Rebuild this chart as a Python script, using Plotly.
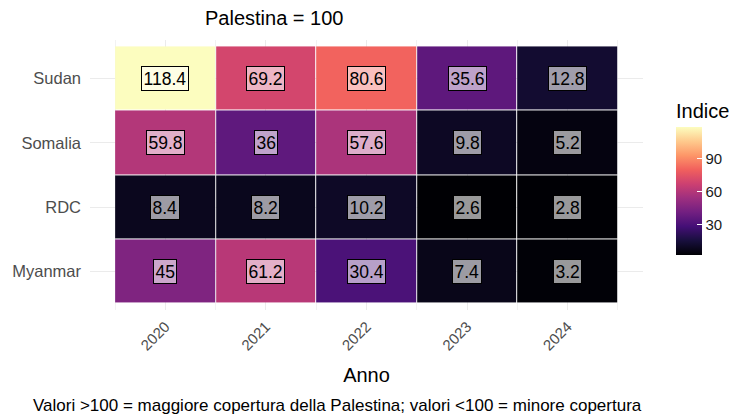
import plotly.graph_objects as go

# data
anni = [2020, 2021, 2022, 2023, 2024]
paesi = ["Myanmar", "RDC", "Somalia", "Sudan"]
sudan = [118.4, 69.2, 80.6, 35.6, 12.8]
somalia = [59.8, 36, 57.6, 9.8, 5.2]
rdc = [8.4, 8.2, 10.2, 2.6, 2.8]
myanmar = [45, 61.2, 30.4, 7.4, 3.2]
valori = [myanmar, rdc, somalia, sudan]
tick_indice = [30, 60, 90]

grey = "#4D4D4D"
W, H = 733, 418
ML, MR, MT, MB = 90, 90, 40, 108
PW, PH = W - ML - MR, H - MT - MB


def px_x(px):
    return (px - ML) / PW


def px_y(py):
    return (H - py - MB) / PH


fig = go.Figure()
fig.add_trace(go.Heatmap(
    x=anni, y=paesi, z=valori,
    colorscale="Magma", xgap=1, ygap=1,
    hoverinfo="skip",
    colorbar=dict(
        title=dict(text="Indice", font=dict(size=20, color="black"), side="top"),
        tickvals=tick_indice, ticks="inside", tickcolor="white", ticklen=5,
        tickfont=dict(size=15, color="#1A1A1A"),
        thickness=26, len=155, lenmode="pixels",
        x=px_x(676), xanchor="left", xpad=0,
        y=px_y(255), yanchor="bottom", ypad=0,
        outlinewidth=0,
    ),
))

for paese, riga in zip(paesi, valori):
    for anno, v in zip(anni, riga):
        fig.add_annotation(
            x=anno, y=paese, text=f"{v:g}", showarrow=False,
            font=dict(size=17.5, color="black"),
            bgcolor="rgba(255,255,255,0.6)", bordercolor="black",
            borderwidth=1, borderpad=1.5,
        )

fig.add_annotation(
    text="Palestina = 100", x=px_x(203), xref="paper", xanchor="left",
    y=px_y(18), yref="paper", yanchor="middle",
    showarrow=False, font=dict(size=20, color="black"),
)
fig.add_annotation(
    text="Valori >100 = maggiore copertura della Palestina; valori <100 = minore copertura",
    x=px_x(644), xref="paper", xanchor="right",
    y=px_y(405), yref="paper", yanchor="middle",
    showarrow=False, font=dict(size=17, color="black"),
)

fig.update_xaxes(
    range=[2019.25, 2024.75], tickvals=anni, tickangle=-45,
    tickfont=dict(size=15, color=grey),
    title=dict(text="Anno", font=dict(size=20, color="black"), standoff=15),
    showgrid=True, gridcolor="#EBEBEB", gridwidth=1,
    minor=dict(tickvals=[2019.5, 2020.5, 2021.5, 2022.5, 2023.5, 2024.5],
               showgrid=True, gridcolor="#F2F2F2", gridwidth=1),
    zeroline=False, ticks="", ticklabelstandoff=4,
)
fig.update_yaxes(
    range=[-0.6, 3.6], categoryorder="array", categoryarray=paesi,
    tickfont=dict(size=16.5, color=grey),
    showgrid=True, gridcolor="#EBEBEB", zeroline=False, ticks="",
    ticklabelstandoff=8,
)
fig.update_layout(
    width=W, height=H,
    margin=dict(l=ML, r=MR, t=MT, b=MB, autoexpand=False),
    plot_bgcolor="white", paper_bgcolor="white",
    font=dict(family="Liberation Sans, Arial"),
)
# the page's body has a default 8px margin, drop it so the figure sits at 0,0
fig.write_html("out.html", config={"displayModeBar": False},
               post_script="document.body.style.margin='0';")
